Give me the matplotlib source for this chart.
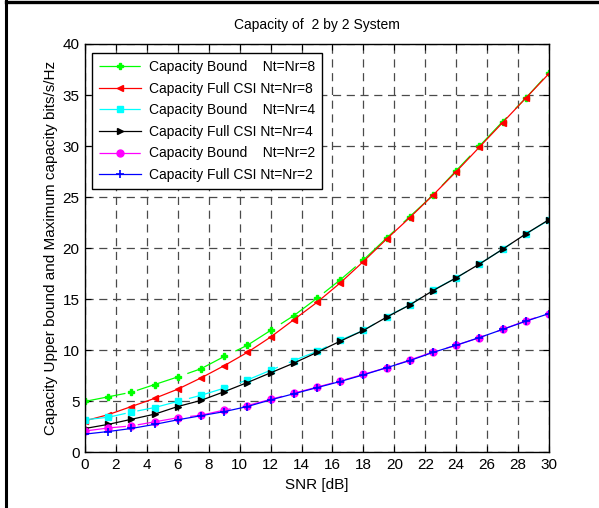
import numpy as np
import matplotlib
matplotlib.use("Agg")
import matplotlib.pyplot as plt
from matplotlib.lines import Line2D

plt.rcParams['font.family'] = ['Liberation Sans', 'DejaVu Sans']

# SNR points (dB)
snr = [0, 1.5, 3, 4.5, 6, 7.5, 9, 10.5, 12, 13.5, 15, 16.5, 18, 19.5, 21,
       22.5, 24, 25.5, 27, 28.5, 30]

# values (bits/s/Hz)
bound_8 = [5.0, 5.45, 5.9, 6.65, 7.4, 8.2, 9.4, 10.5, 11.95, 13.4, 15.1, 16.9,
           18.85, 21.0, 23.1, 25.2, 27.6, 30.0, 32.4, 34.7, 37.2]
full_8 = [3.1, 3.7, 4.5, 5.3, 6.2, 7.3, 8.5, 9.8, 11.3, 13.0, 14.7, 16.6,
          18.7, 20.9, 23.0, 25.2, 27.5, 29.9, 32.3, 34.7, 37.1]
bound_4 = [3.2, 3.45, 3.95, 4.4, 5.0, 5.6, 6.3, 7.1, 8.05, 9.0, 9.9, 11.0,
           11.95, 13.3, 14.45, 15.9, 17.1, 18.45, 19.9, 21.4, 22.75]
full_4 = [2.35, 2.75, 3.25, 3.75, 4.5, 5.1, 5.95, 6.85, 7.8, 8.75, 9.8, 10.9,
          11.95, 13.25, 14.45, 15.85, 17.1, 18.45, 19.9, 21.4, 22.8]
bound_2 = [2.1, 2.4, 2.6, 3.0, 3.4, 3.65, 4.15, 4.6, 5.2, 5.8, 6.4, 7.0,
           7.65, 8.3, 9.05, 9.85, 10.5, 11.25, 12.05, 12.9, 13.6]
full_2 = [1.8, 2.05, 2.35, 2.75, 3.2, 3.6, 4.0, 4.5, 5.15, 5.75, 6.35, 6.95,
          7.6, 8.3, 9.0, 9.8, 10.5, 11.25, 12.05, 12.85, 13.6]

labels = ['Capacity Bound    Nt=Nr=8', 'Capacity Full CSI Nt=Nr=8',
          'Capacity Bound    Nt=Nr=4', 'Capacity Full CSI Nt=Nr=4',
          'Capacity Bound    Nt=Nr=2', 'Capacity Full CSI Nt=Nr=2']

fig = plt.figure(figsize=(5.99, 5.08), dpi=100)
ax = fig.add_axes([0.1419, 0.1093, 0.9165 - 0.1419, 0.9134 - 0.1093])

dash = (0, (33, 9.5))
ax.plot(snr, bound_8, color='#00ff00', ls=dash, lw=0.9, marker='P', ms=5, label=labels[0])
ax.plot(snr, full_8, color='red', ls='-', lw=0.9, marker='<', ms=5, label=labels[1])
ax.plot(snr, bound_4, color='cyan', ls=dash, lw=0.9, marker='s', ms=5, label=labels[2])
ax.plot(snr, full_4, color='black', ls='-', lw=0.9, marker='>', ms=5, label=labels[3])
ax.plot(snr, bound_2, color='magenta', ls=dash, lw=0.9, marker='o', ms=5, label=labels[4])
ax.plot(snr, full_2, color='blue', ls='-', lw=0.9, marker='+', ms=6, mew=1.2, label=labels[5])

ax.set_xlim(0, 30)
ax.set_ylim(0, 40)
ax.set_xticks(np.arange(0, 31, 2))
ax.set_yticks(np.arange(0, 41, 5))
ax.tick_params(direction='in', top=True, right=True, length=4, width=0.8,
               labelsize=11, pad=4)
ax.grid(True, color='#4a4a4a', ls=(0, (6.5, 4.5)), lw=0.9)
for s in ax.spines.values():
    s.set_linewidth(1.0)

ax.set_title('Capacity of  2 by 2 System', fontsize=10, pad=11)
ax.set_xlabel('SNR [dB]', fontsize=11, labelpad=4)
ax.set_ylabel('Capacity Upper bound and Maximum capacity bits/s/Hz', fontsize=11, labelpad=3)

leg = ax.legend(loc='upper left', bbox_to_anchor=(0.015, 0.978), borderaxespad=0,
                fontsize=10, fancybox=False, framealpha=1, edgecolor='black',
                handlelength=3.0, labelspacing=0.55, borderpad=0.5, handletextpad=0.6)
leg.get_frame().set_linewidth(1.0)

# outer frame edges (top and left)
fig.add_artist(Line2D([6 / 599, 1], [1 - 1.5 / 508, 1 - 1.5 / 508],
                      transform=fig.transFigure, color='black', lw=2.4))
fig.add_artist(Line2D([6 / 599, 6 / 599], [0, 1], transform=fig.transFigure,
                      color='black', lw=2.2))

fig.savefig('out.png', dpi=100)
